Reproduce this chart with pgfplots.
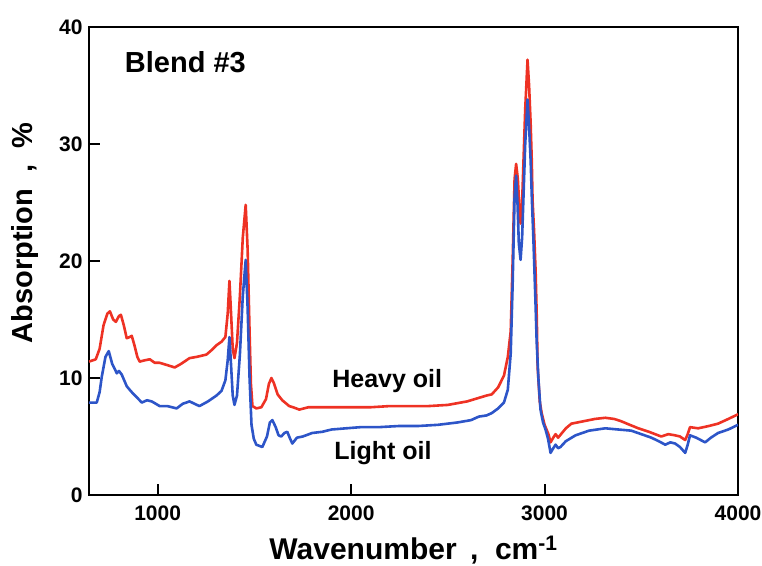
\documentclass[border=0pt]{standalone}
\usepackage{pgfplots}
\pgfplotsset{compat=1.18}
\usepackage{fontspec}
\setmainfont{Liberation Sans}
\definecolor{heavy}{RGB}{238,50,36}
\definecolor{light}{RGB}{45,85,200}
\begin{document}
\begin{tikzpicture}
\useasboundingbox (-89pt,-70pt) rectangle (673pt,495pt);
\begin{axis}[
  scale only axis, width=649pt, height=468pt,
  xmin=645, xmax=4000, ymin=0, ymax=40,
  xtick={1000,2000,3000,4000}, ytick={0,10,20,30,40},
  tick pos=left, tick align=inside,
  major tick length=11pt,
  axis line style={line width=2.5pt},
  every tick/.style={black, line width=2pt},
  /pgf/number format/assume math mode=true,
  /pgf/number format/1000 sep={},
  tick label style={font=\fontsize{21}{24}\selectfont\bfseries},
  xticklabel style={yshift=-7pt},
  yticklabel style={xshift=-3pt},
  xlabel={Wavenumber\,\ ,\ \ cm\textsuperscript{-1}},
  ylabel={Absorption\ \ ,\ \ \%},
  xlabel style={font=\fontsize{30}{33}\selectfont\bfseries, at={(axis description cs:0.5,-0.117)}, anchor=center},
  ylabel style={font=\fontsize{29}{32}\selectfont\bfseries, at={(axis description cs:-0.099,0.56)}, anchor=center, rotate=0},
  clip=true,
]
\addplot[heavy, line width=2.6pt, line join=round] coordinates {
(645,11.4)(680,11.6)(700,12.5)(720,14.5)(740,15.5)(753,15.7)(770,15.0)(784,14.8)(800,15.3)(810,15.4)
(825,14.5)(840,13.4)(855,13.5)(866,13.6)(880,12.8)(895,11.8)(907,11.4)(930,11.5)(959,11.6)(985,11.3)
(1010,11.3)(1050,11.1)(1088,10.9)(1120,11.2)(1165,11.7)(1200,11.8)(1252,12.0)(1280,12.4)(1304,12.8)
(1330,13.1)(1350,13.5)(1362,15.5)(1371,18.3)(1378,16.0)(1388,12.5)(1397,11.7)(1410,13)(1425,17)
(1440,22)(1455,24.8)(1465,21)(1475,14)(1482,9.5)(1490,7.6)(1510,7.4)(1536,7.5)(1560,8.2)(1575,9.5)
(1588,10.0)(1600,9.6)(1620,8.6)(1644,8.1)(1680,7.6)(1700,7.5)(1732,7.3)(1780,7.5)(1850,7.5)(1900,7.5)
(2000,7.5)(2100,7.5)(2200,7.6)(2300,7.6)(2400,7.6)(2500,7.7)(2600,8.0)(2660,8.3)(2700,8.5)(2727,8.6)
(2760,9.2)(2790,10.2)(2810,11.8)(2825,14.0)(2835,20)(2845,27.0)(2853,28.3)(2862,27.0)(2870,24.5)
(2876,23.2)(2884,25)(2892,29)(2900,33)(2912,37.2)(2920,35)(2928,31.8)(2934,28.5)(2938,25.2)(2946,22.5)
(2954,19.0)(2960,15)(2964,11.0)(2975,8.0)(2985,7.0)(3000,6.0)(3020,5.2)(3031,4.5)(3045,4.9)(3057,5.2)
(3070,4.9)(3085,5.2)(3110,5.7)(3139,6.1)(3200,6.3)(3260,6.5)(3314,6.6)(3360,6.5)(3397,6.3)(3440,6.0)
(3485,5.7)(3540,5.4)(3603,5.0)(3640,5.2)(3675,5.1)(3700,5.0)(3727,4.7)(3740,5.2)(3752,5.8)(3794,5.7)
(3850,5.9)(3897,6.1)(3950,6.5)(4000,6.9)
};
\addplot[light, line width=2.6pt, line join=round] coordinates {
(645,7.9)(685,7.9)(700,8.8)(711,10.1)(730,11.8)(747,12.3)(765,11.2)(789,10.4)(800,10.6)(814,10.3)
(840,9.3)(855,9.0)(871,8.7)(895,8.3)(918,7.9)(945,8.1)(969,8.0)(990,7.8)(1010,7.6)(1050,7.6)
(1098,7.4)(1130,7.8)(1165,8.0)(1190,7.8)(1216,7.6)(1260,8.0)(1304,8.5)(1330,8.9)(1350,9.8)(1362,11.5)
(1371,13.5)(1378,11.5)(1388,8.5)(1397,7.7)(1410,8.5)(1425,12)(1440,17)(1455,20.1)(1465,16)(1475,10)
(1485,6.0)(1497,4.8)(1510,4.3)(1541,4.1)(1565,5.0)(1580,6.2)(1593,6.4)(1610,5.8)(1625,5.1)(1639,5.0)
(1655,5.3)(1670,5.4)(1685,4.8)(1696,4.4)(1720,4.9)(1750,5.0)(1799,5.3)(1850,5.4)(1900,5.6)(1974,5.7)
(2050,5.8)(2144,5.8)(2250,5.9)(2350,5.9)(2450,6.0)(2550,6.2)(2620,6.4)(2660,6.7)(2700,6.8)(2727,7.0)
(2760,7.4)(2790,7.9)(2810,9.0)(2825,12.1)(2835,18)(2845,25.5)(2853,27.3)(2860,25)(2867,21.5)(2876,20.1)
(2884,22)(2892,26)(2900,30)(2912,33.8)(2920,31.5)(2928,28.6)(2935,25.0)(2942,22)(2948,19.0)(2954,16)
(2959,13.2)(2968,10)(2979,7.3)(2992,6.2)(3005,5.6)(3018,4.8)(3031,3.6)(3045,4.0)(3057,4.3)(3070,4.0)
(3082,4.1)(3110,4.6)(3160,5.1)(3230,5.5)(3314,5.7)(3380,5.6)(3448,5.5)(3500,5.2)(3552,4.9)(3590,4.6)
(3624,4.3)(3650,4.5)(3675,4.4)(3700,4.1)(3727,3.6)(3740,4.3)(3752,5.1)(3784,4.9)(3830,4.5)(3860,4.9)
(3897,5.3)(3950,5.6)(4000,6.0)
};
\node[font=\fontsize{29}{32}\selectfont\bfseries, anchor=base west, inner sep=0pt] at (axis cs:830,36.15) {Blend \#3};
\node[font=\fontsize{25}{28}\selectfont\bfseries, anchor=base west, inner sep=0pt] at (axis cs:1902,9.15) {Heavy oil};
\node[font=\fontsize{25}{28}\selectfont\bfseries, anchor=base west, inner sep=0pt] at (axis cs:1912,3.0) {Light oil};
\end{axis}
\end{tikzpicture}
\end{document}
